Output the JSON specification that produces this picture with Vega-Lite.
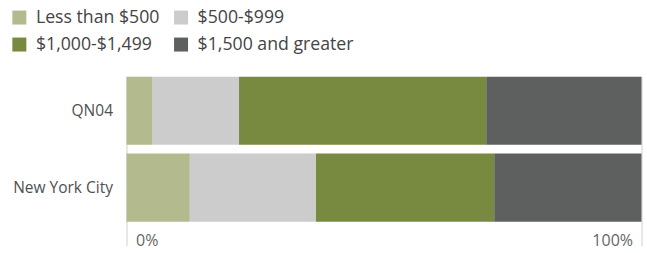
{
  "$schema": "https://vega.github.io/schema/vega-lite/v6.json",
  "width": 515,
  "height": 169,
  "autosize": {"type": "none"},
  "padding": {"left": 126.5, "top": 76.7, "right": 5.5, "bottom": 7.3},
  "background": "white",
  "config": {
    "view": {"stroke": null},
    "font": "Open Sans"
  },
  "data": {
    "values": [
      {"area": "QN04", "bucket": "Less than $500", "ord": 1, "pct": 4.95},
      {"area": "QN04", "bucket": "$500-$999", "ord": 2, "pct": 16.9},
      {"area": "QN04", "bucket": "$1,000-$1,499", "ord": 3, "pct": 48.0},
      {"area": "QN04", "bucket": "$1,500 and greater", "ord": 4, "pct": 30.15},
      {"area": "New York City", "bucket": "Less than $500", "ord": 1, "pct": 12.3},
      {"area": "New York City", "bucket": "$500-$999", "ord": 2, "pct": 24.5},
      {"area": "New York City", "bucket": "$1,000-$1,499", "ord": 3, "pct": 34.6},
      {"area": "New York City", "bucket": "$1,500 and greater", "ord": 4, "pct": 28.6}
    ]
  },
  "mark": {"type": "bar"},
  "encoding": {
    "y": {
      "field": "area",
      "type": "nominal",
      "sort": ["QN04", "New York City"],
      "scale": {"paddingInner": 0.113, "paddingOuter": 0.156, "align": 0},
      "axis": {
        "title": null,
        "domain": false,
        "ticks": false,
        "labelPadding": 14,
        "labelFontSize": 15.5,
        "labelColor": "#505050",
        "labelFont": "Open Sans"
      }
    },
    "x": {
      "field": "pct",
      "type": "quantitative",
      "stack": "normalize",
      "scale": {"domain": [0, 1]},
      "axis": {
        "title": null,
        "values": [0, 1],
        "format": ".0%",
        "domain": false,
        "ticks": false,
        "grid": true,
        "gridColor": "#d0d0d0",
        "gridWidth": 1,
        "labelPadding": 0,
        "labelBaseline": "alphabetic",
        "labelFlush": true,
        "labelFlushOffset": -9,
        "labelFontSize": 16,
        "labelColor": "#666666",
        "labelFont": "Open Sans"
      }
    },
    "color": {
      "field": "bucket",
      "type": "nominal",
      "scale": {
        "domain": ["Less than $500", "$500-$999", "$1,000-$1,499", "$1,500 and greater"],
        "range": ["#b3ba8d", "#cbcccb", "#788a3f", "#5e605f"]
      },
      "legend": {
        "title": null,
        "orient": "none",
        "direction": "horizontal",
        "legendX": -116,
        "legendY": -68,
        "columns": 2,
        "gridAlign": "none",
        "symbolType": "square",
        "symbolSize": 196,
        "symbolStrokeWidth": 0,
        "labelFontSize": 17.7,
        "labelFont": "Open Sans",
        "labelColor": "#444444",
        "labelOffset": 7.7,
        "columnPadding": 12.7,
        "rowPadding": 8,
        "labelLimit": 300
      }
    },
    "order": {"field": "ord", "type": "quantitative"}
  }
}
